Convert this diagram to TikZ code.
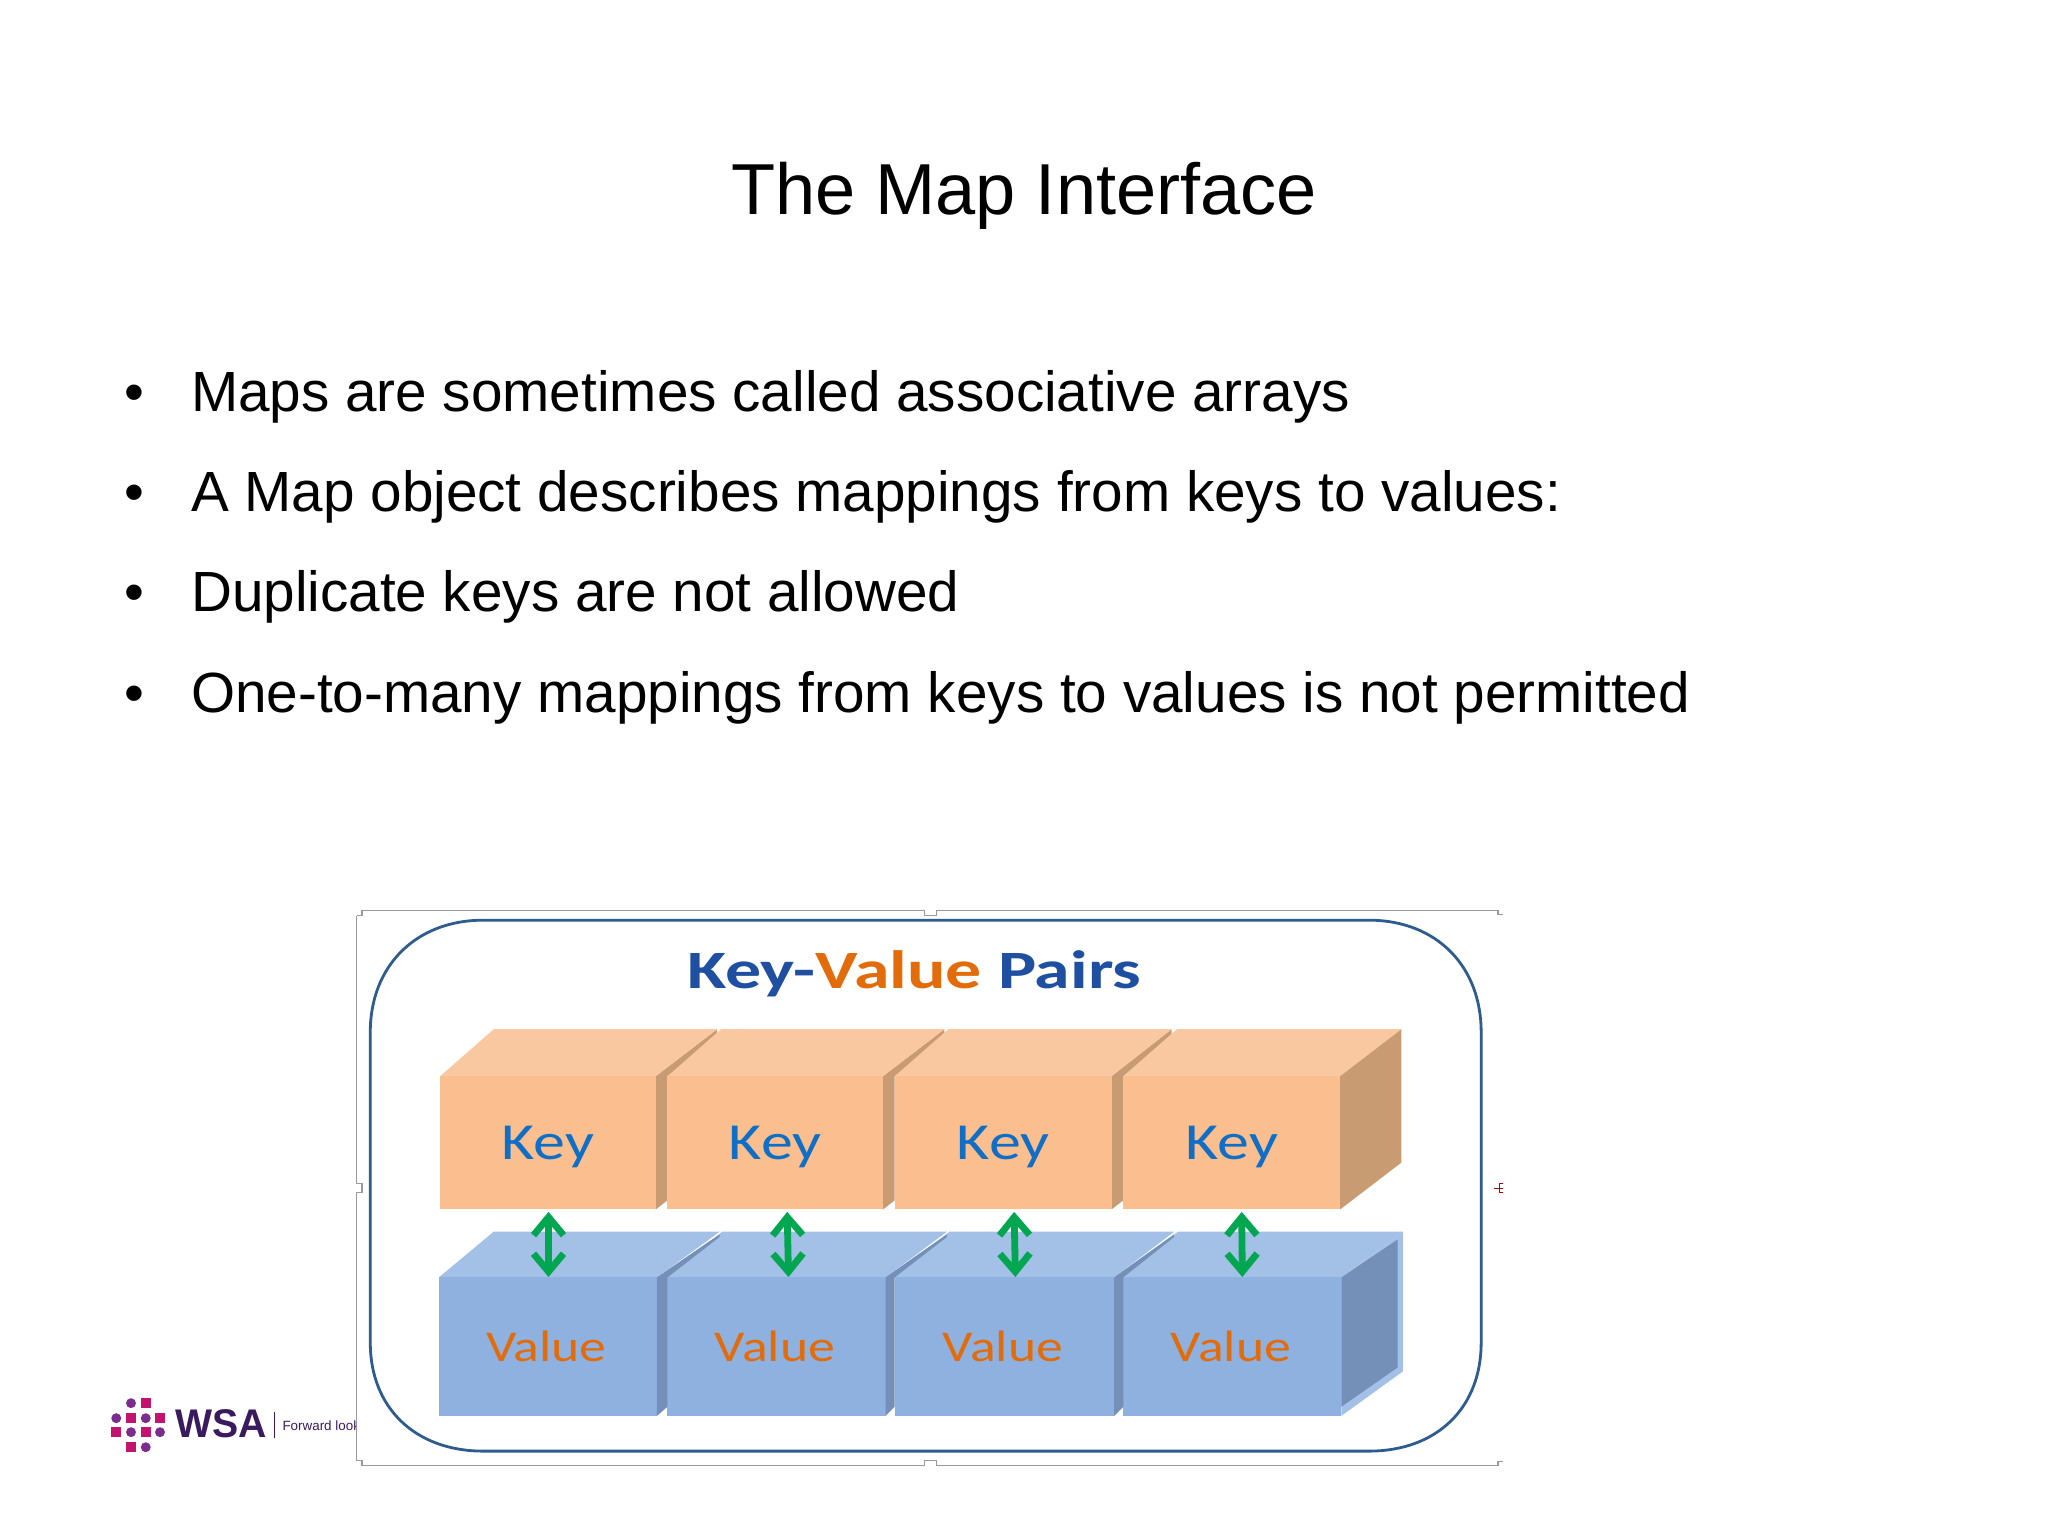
\documentclass[tikz,border=0pt]{standalone}
\usepackage{fontspec}
\usepackage{graphicx}
\setmainfont{Liberation Sans}
\newfontfamily\boxfont{Carlito}
\usetikzlibrary{arrows.meta}
\definecolor{keyfront}{HTML}{FBBE8E}
\definecolor{keytop}{HTML}{F9C8A0}
\definecolor{keyside}{HTML}{C99B72}
\definecolor{valfront}{HTML}{8EB1E0}
\definecolor{valtop}{HTML}{A3C0E6}
\definecolor{valside}{HTML}{7490B8}
\definecolor{keytext}{HTML}{0F6FC6}
\definecolor{valtext}{HTML}{E36C0A}
\definecolor{titleblue}{HTML}{1F4FA0}
\definecolor{linkgreen}{HTML}{00A650}
\definecolor{framegray}{HTML}{9A9A9A}
\definecolor{roundblue}{HTML}{2F5C8F}
\definecolor{logopurple}{HTML}{7B2D8E}
\definecolor{logopink}{HTML}{C2146E}
\definecolor{logodark}{HTML}{3A1A5E}
\tikzset{
  slidetitle/.style={anchor=base,inner sep=0pt,font=\fontsize{36.1}{42}\selectfont},
  bodyline/.style={anchor=base west,inner sep=0pt,font=\fontsize{28.33}{34}\selectfont},
  bulletmark/.style={anchor=base,inner sep=0pt,font=\fontsize{28.33}{34}\selectfont},
  keyface/.style={fill=keyfront,inner sep=0pt,text=keytext,font=\boxfont\fontsize{26}{30}\selectfont},
  valface/.style={fill=valfront,inner sep=0pt,text=valtext,font=\boxfont\fontsize{22}{26}\selectfont},
  link/.style={draw=linkgreen,line width=3.4pt,{Straight Barb[length=9pt,width=15pt,line width=3.4pt]}-{Straight Barb[length=9pt,width=15pt,line width=3.4pt]}},
  framestroke/.style={draw=framegray,line width=0.7pt},
  logodot/.style={fill=logopurple},
  logosq/.style={fill=logopink},
}
\newcommand{\KeyBox}[4]{% name, x0, x1, top-right x
  \fill[keytop] (#2,824) -- (#2+41,788) -- (#4,788) -- (#3,824) -- cycle;
  \node[keyface,minimum width={(#3-#2)*0.653061pt},minimum height={102*0.653061pt}] (#1) at ({(#2+#3)/2},875) {\raisebox{-8.5pt}[0pt][0pt]{\scalebox{1.23}[1]{Key}}};
}
\newcommand{\ValBox}[4]{%
  \fill[valtop] (#2,978) -- (#2+42,943) -- (#4,943) -- (#3,978) -- cycle;
  \node[valface,minimum width={(#3-#2)*0.653061pt},minimum height={106*0.653061pt}] (#1) at ({(#2+#3)/2},1031) {\hspace{-1.5pt}\scalebox{1.22}[1]{Value}};
}
\begin{document}
\begin{tikzpicture}[x=0.653061pt,y=-0.653061pt]
\useasboundingbox[fill=white] (0,0) rectangle (1568,1175.2);
% title and bullets
\node[slidetitle] (title) at (784,164.5) {The Map Interface};
\node[bulletmark] (b1) at (103,315) {•};
\node[bodyline] (t1) at (146,315) {Maps are sometimes called associative arrays};
\node[bulletmark] (b2) at (103,391.5) {•};
\node[bodyline] (t2) at (146,391.5) {A Map object describes mappings from keys to values:};
\node[bulletmark] (b3) at (103,468.5) {•};
\node[bodyline] (t3) at (146,468.5) {Duplicate keys are not allowed};
\node[bulletmark] (b4) at (103,545.5) {•};
\node[bodyline] (t4) at (146,545.5) {One-to-many mappings from keys to values is not permitted};
% logo
\foreach \px/\py in {100.3/1074.3,100.3/1096.5,89/1085.8,111.6/1085.8,122.5/1096.5,111.6/1108}
  \fill[logodot] (\px,\py) circle (3.8);
\foreach \px/\py in {111.6/1074.3,100.3/1085.8,122.5/1085.8,89/1096.5,111.6/1096.5,100.3/1108}
  \fill[logosq] (\px-3.8,\py-3.8) rectangle (\px+3.8,\py+3.8);
\node[anchor=base west,inner sep=0pt,text=logodark,font=\bfseries\fontsize{20}{24}\selectfont] (wsa) at (134,1100.5) {\scalebox{0.98}[1]{WSA}};
\draw[logodark,line width=0.6pt] (210,1081) -- (210,1101);
\begin{scope}
  \clip (205,1070) rectangle (273,1115);
  \node[anchor=base west,inner sep=0pt,text=logodark,font=\fontsize{6.7}{9}\selectfont] (fwd) at (216,1095.5) {Forward look};
\end{scope}
% picture frame
\draw[framestroke] (277,697) -- (708,697) -- (708,701) -- (717,701) -- (717,697) -- (1147,697) -- (1147,700) -- (1151,700);
\draw[framestroke] (273,701) -- (277,701) -- (277,697);
\draw[framestroke] (273,701) -- (273,906) -- (277,906) -- (277,913) -- (273,913) -- (273,1118) -- (277,1118) -- (277,1122) -- (708,1122) -- (708,1118) -- (717,1118) -- (717,1122) -- (1147,1122) -- (1147,1119) -- (1151,1119);
% rounded panel
\draw[roundblue,line width=1.4pt,fill=white] (370,704.5) -- (1048,704.5)
  .. controls (1100,704.5) and (1134,740) .. (1134,790) -- (1134,1028)
  .. controls (1134,1078) and (1100,1111) .. (1048,1111) -- (370,1111)
  .. controls (318,1111) and (283.5,1078) .. (283.5,1028) -- (283.5,790)
  .. controls (283.5,740) and (318,704.5) .. (370,704.5) -- cycle;
% heading
\node[anchor=base,inner sep=0pt,font=\boxfont\bfseries\fontsize{27}{32}\selectfont] (heading) at (700,757) {\scalebox{1.33}[1]{\textcolor{titleblue}{Key-}\textcolor{valtext}{Value} \textcolor{titleblue}{Pairs}}};
% key boxes
\foreach \a/\b/\c in {502/511/549,676/685/723,851/860/897}{
  \fill[keyside] (\a,824) -- (\c,788) -- (\c,794) -- (\b,824) -- (\b,919) -- (\a,926) -- cycle;
}
\KeyBox{k1}{337}{502}{549}
\KeyBox{k2}{511}{676}{723}
\KeyBox{k3}{685}{851}{897}
\KeyBox{k4}{860}{1026}{1073}
\fill[keyside] (1026,824) -- (1073,788) -- (1073,890) -- (1026,926) -- cycle;
% value boxes
\ValBox{v1}{336}{503}{551}
\ValBox{v2}{511}{678}{725}
\ValBox{v3}{685}{853}{899}
\ValBox{v4}{860}{1027}{1074}
\foreach \a/\b/\c in {503/511/551,678/685/725,853/860/899}{
  \fill[valtop] (\a,978) -- (\c,945) -- (\c+2,943) -- (\b,978) -- cycle;
  \fill[valside] (\a,978) -- (\c,945) -- (\c,947) -- (\b,978) -- (\b,1077) -- (\a,1084) -- cycle;
}
\fill[valtop] (1027,978) -- (1074,943) -- (1074,1050) -- (1027,1084) -- cycle;
\fill[valside] (1027,978) -- (1070,949) -- (1070,1047) -- (1027,1077) -- cycle;
% links
\draw[link] ([xshift=0.3pt,yshift=-1pt]k1.south) -- ([xshift=0.3pt]v1.north);
\draw[link] ([xshift=6pt,yshift=-1pt]k2.south) -- ([xshift=6pt]v2.north);
\draw[link] ([xshift=5.5pt,yshift=-1pt]k3.south) -- ([xshift=5.5pt]v3.north);
\draw[link] ([xshift=5pt,yshift=-1pt]k4.south) -- ([xshift=5pt]v4.north);
% small red mark
\draw[red!70!black,line width=0.35pt] (1144,909.5) -- (1151,909.5) (1148,906) -- (1148,913) (1148,906) -- (1151,906) (1148,913) -- (1151,913);
\end{tikzpicture}
\end{document}
